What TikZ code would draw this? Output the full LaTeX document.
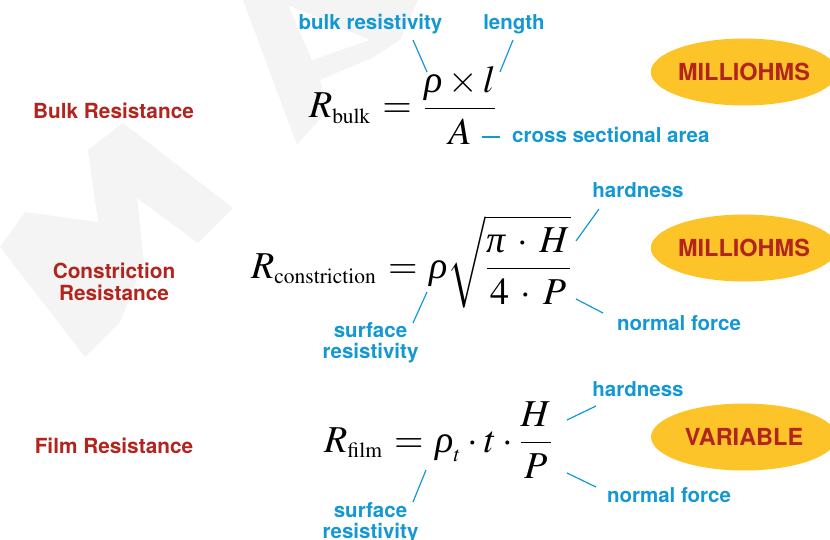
\documentclass[tikz,border=0pt]{standalone}
\usepackage{mathptmx}
\usepackage[no-math]{fontspec}
\newfontfamily\hv{TeX Gyre Heros}
\newfontfamily\tms{Liberation Serif}
\DeclareMathSizes{38}{38}{21.5}{16}
\newcommand{\grk}[1]{\mbox{\tms\itshape #1}}
\newcommand{\eqset}[1]{\thickmuskip=5.5mu \medmuskip=#1 \displaystyle}
\definecolor{wm}{RGB}{244,244,244}
\definecolor{lblue}{RGB}{20,152,212}
\definecolor{lred}{RGB}{178,36,30}
\definecolor{pill}{RGB}{253,196,42}
\tikzset{
  redlbl/.style={text=lred,font=\hv\bfseries\fontsize{20.8}{22}\selectfont,inner sep=0pt,align=center},
  bluelbl/.style={text=lblue,font=\hv\bfseries\fontsize{20.5}{20.5}\selectfont,inner sep=0pt,align=center},
  eqn/.style={font=\fontsize{38}{46}\selectfont,inner sep=0pt,anchor=base west},
  leader/.style={draw=lblue,line width=1.2pt},
  unitpill/.style={ellipse,fill=pill,minimum width=186pt,minimum height=67pt,inner sep=0pt,text=lred,font=\hv\bfseries\fontsize{23.5}{24}\selectfont}
}
\usetikzlibrary{shapes.geometric}
\begin{document}
\begin{tikzpicture}[x=1pt,y=-1pt]
\useasboundingbox (0,0) rectangle (830,540);
\clip (0,0) rectangle (830,540);
% watermark
\fill[wm] (0,247) -- (25,212) -- (98,222) -- (88,150) -- (123,123) -- (233,208) -- (198,243) -- (137,198) -- (144,263) -- (120,322) -- (85,357) -- cycle;
\fill[wm,even odd rule] (243,0) -- (297,145) -- (328,110) -- (320,80) -- (372,58) -- (400,40) -- (418,0) -- cycle
  (288,5) -- (370,40) -- (312,60) -- cycle;
% row labels
\node[redlbl,anchor=base] (bulk) at (113.5,119) {Bulk Resistance};
\node[redlbl] (constr) at (114,282) {Constriction\\Resistance};
\node[redlbl,anchor=base] (film) at (114,453.5) {Film Resistance};
% equations
\node[eqn] (eq1) at (309,118) {$\eqset{2.5mu} R_{\mathrm{bulk}}=\frac{\grk{ρ}\times l}{A}$};
\node[eqn] (eq2) at (251,278) {$\eqset{5.5mu} R_{\mathrm{constriction}}=\grk{ρ}\sqrt{\frac{\grk{π}\cdot H}{4\cdot P}}$};
\node[eqn] (eq3) at (324,452) {$\eqset{3mu} R_{\mathrm{film}}=\grk{ρ}_t\cdot t\cdot\frac{H}{P}$};
% pills
\node[unitpill] (u1) at (744,72) {MILLIOHMS};
\node[unitpill] (u2) at (744,248) {MILLIOHMS};
\node[unitpill] (u3) at (744,437) {VARIABLE};
% blue labels eq1
\node[bluelbl,anchor=base] (bres) at (370.5,30) {bulk resistivity};
\node[bluelbl,anchor=base] (len) at (514,30) {length};
\node[bluelbl,anchor=base west] (area) at (512,143) {cross sectional area};
\coordinate (bres1) at (413,40); \coordinate (bres2) at (427,72);
\coordinate (len1) at (513,40); \coordinate (len2) at (500,72);
\coordinate (area1) at (482,137); \coordinate (area2) at (500,137);
\draw[leader] (bres1) -- (bres2);
\draw[leader] (len1) -- (len2);
\draw[leader] (area1) -- (area2);
% blue labels eq2
\node[bluelbl,anchor=base] (hard2) at (638,198) {hardness};
\node[bluelbl,anchor=base] (nf2) at (679,330) {normal force};
\node[bluelbl,anchor=base] (sr2) at (370.5,358) {surface\\resistivity};
\coordinate (h2a) at (576,241); \coordinate (h2b) at (599,209);
\coordinate (n2a) at (576,299); \coordinate (n2b) at (603,313);
\coordinate (s2a) at (427,292); \coordinate (s2b) at (413,323);
\draw[leader] (h2a) -- (h2b);
\draw[leader] (n2a) -- (n2b);
\draw[leader] (s2a) -- (s2b);
% blue labels eq3
\node[bluelbl,anchor=base] (hard3) at (638,396) {hardness};
\node[bluelbl,anchor=base] (nf3) at (669,502) {normal force};
\node[bluelbl,anchor=base] (sr3) at (370.5,538) {surface\\resistivity};
\coordinate (h3a) at (567,420); \coordinate (h3b) at (596,406);
\coordinate (n3a) at (567,473); \coordinate (n3b) at (596,487);
\coordinate (s3a) at (426,470); \coordinate (s3b) at (413,502);
\draw[leader] (h3a) -- (h3b);
\draw[leader] (n3a) -- (n3b);
\draw[leader] (s3a) -- (s3b);
\end{tikzpicture}
\end{document}
